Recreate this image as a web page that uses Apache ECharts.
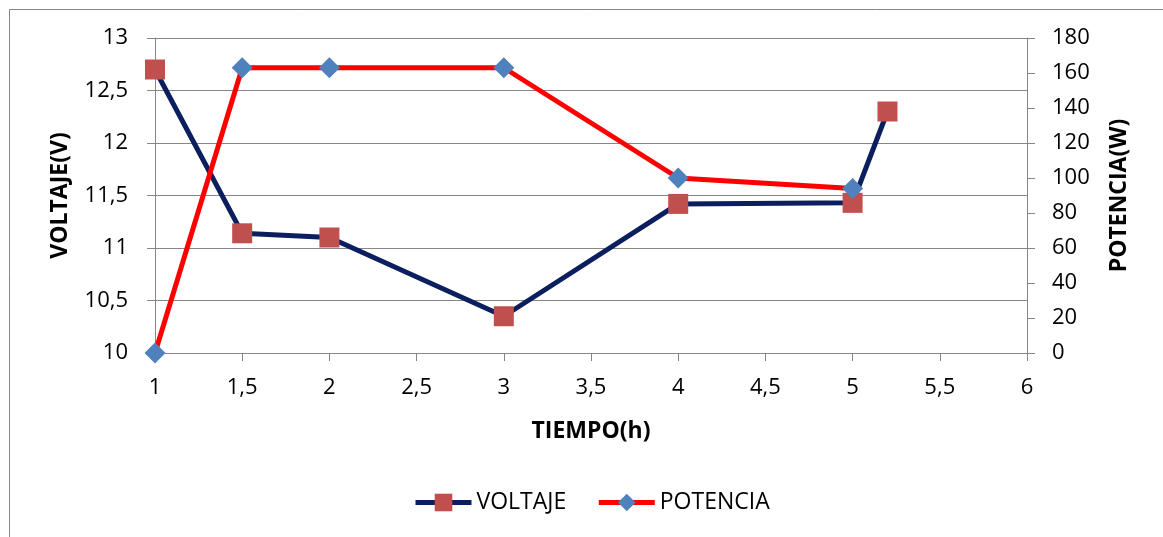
<!DOCTYPE html>
<html>
<head>
<meta charset="utf-8">
<script src="https://cdn.jsdelivr.net/npm/echarts@6/dist/echarts.min.js"></script>
<style>
html,body{margin:0;padding:0;background:#fff;}
#chart{width:1163px;height:537px;}
</style>
</head>
<body>
<div id="chart"></div>
<script>
// Data
const tiempoVoltaje = [1, 1.5, 2, 3, 4, 5, 5.2];
const voltaje = [12.7, 11.14, 11.1, 10.35, 11.42, 11.43, 12.3];
const tiempoPotencia = [1, 1.5, 2, 3, 4, 5];
const potencia = [0, 163, 163, 163, 100, 94];
const seriesNames = ['VOLTAJE', 'POTENCIA'];
const axisTitles = { x: 'TIEMPO(h)', left: 'VOLTAJE(V)', right: 'POTENCIA(W)' };

const FONT = 'Open Sans';
const GRAY = '#868686';
const comma = v => String(v).replace('.', ',');

const chart = echarts.init(document.getElementById('chart'), null, { renderer: 'canvas' });
chart.setOption({
  backgroundColor: '#ffffff',
  animation: false,
  textStyle: { fontFamily: FONT },
  graphic: [{
    type: 'rect',
    shape: { x: 9.5, y: 9.5, width: 1200, height: 600 },
    style: { fill: 'none', stroke: GRAY, lineWidth: 1 },
    silent: true, z: -10
  }],
  grid: { left: 155, right: 136, top: 38, bottom: 184, containLabel: false },
  legend: {
    data: seriesNames,
    left: 413, top: 491, padding: 0,
    itemWidth: 56, itemHeight: 22, itemGap: 30,
    lineStyle: { width: 5 },
    textStyle: { fontFamily: FONT, fontSize: 23, color: '#000' }
  },
  xAxis: {
    type: 'value', min: 1, max: 6, interval: 0.5,
    name: axisTitles.x, nameLocation: 'middle', nameGap: 67,
    nameTextStyle: { fontFamily: FONT, fontSize: 23, fontWeight: 'bold', color: '#000' },
    axisLine: { show: true, lineStyle: { color: GRAY, width: 1 } },
    axisTick: { show: true, length: 8, lineStyle: { color: GRAY } },
    axisLabel: { formatter: comma, fontFamily: FONT, fontSize: 22, color: '#000', margin: 24 },
    splitLine: { show: false }
  },
  yAxis: [{
    type: 'value', min: 10, max: 13, interval: 0.5, position: 'left',
    name: axisTitles.left, nameLocation: 'middle', nameGap: 83, nameRotate: 90,
    nameTextStyle: { fontFamily: FONT, fontSize: 23, fontWeight: 'bold', color: '#000' },
    axisLine: { show: true, lineStyle: { color: GRAY, width: 1 } },
    axisTick: { show: true, length: 8, lineStyle: { color: GRAY } },
    axisLabel: { formatter: comma, fontFamily: FONT, fontSize: 22, color: '#000', margin: 27 },
    splitLine: { show: true, lineStyle: { color: GRAY, width: 1 } }
  }, {
    type: 'value', min: 0, max: 180, interval: 20, position: 'right',
    name: axisTitles.right, nameLocation: 'middle', nameGap: 81, nameRotate: 90,
    nameTextStyle: { fontFamily: FONT, fontSize: 23, fontWeight: 'bold', color: '#000' },
    axisLine: { show: true, lineStyle: { color: GRAY, width: 1 } },
    axisTick: { show: true, length: 8, lineStyle: { color: GRAY } },
    axisLabel: { formatter: v => String(v), fontFamily: FONT, fontSize: 22, color: '#000', margin: 25 },
    splitLine: { show: false }
  }],
  series: [{
    name: seriesNames[0], type: 'line', yAxisIndex: 0,
    data: tiempoVoltaje.map((t, i) => [t, voltaje[i]]),
    symbol: 'rect', symbolSize: 20,
    lineStyle: { color: '#0B1F5E', width: 5 },
    itemStyle: { color: '#C0504D' },
    z: 2
  }, {
    name: seriesNames[1], type: 'line', yAxisIndex: 1,
    data: tiempoPotencia.map((t, i) => [t, potencia[i]]),
    symbol: 'diamond', symbolSize: 21,
    lineStyle: { color: '#FF0000', width: 5 },
    itemStyle: { color: '#4F81BD' },
    z: 3
  }]
});
</script>
</body>
</html>
